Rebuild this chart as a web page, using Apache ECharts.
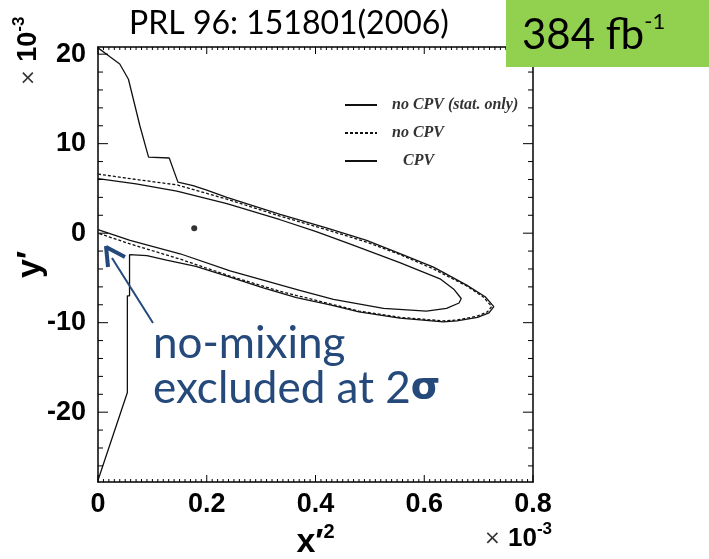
<!DOCTYPE html>
<html>
<head>
<meta charset="utf-8">
<title>x'2 vs y' contours</title>
<script src="https://cdn.jsdelivr.net/npm/echarts@6/dist/echarts.min.js"></script>
<style>
  html, body { margin: 0; padding: 0; background: #fff; }
  #main { width: 709px; height: 559px; }
</style>
</head>
<body>
<div id="main"></div>
<script>
// 95% CL contours in the (x'^2, y') plane, both axes in units of 1e-3
var statOnly = [
  [0, 6.1], [0.07, 5.5], [0.145, 4.7], [0.237, 3.3], [0.335, 1.5], [0.40, 0.2],
  [0.463, -1.2], [0.555, -3.3], [0.629, -5.1], [0.655, -6.3], [0.668, -7.3], [0.664, -7.8],
  [0.641, -8.4], [0.604, -8.7], [0.525, -8.4], [0.433, -7.4], [0.371, -6.4], [0.243, -4.2],
  [0.151, -2.3], [0.059, -0.8], [0, 0.4]
];
var noCpv = [
  [0, 6.6], [0.07, 6.0], [0.145, 5.4], [0.237, 3.8], [0.335, 1.9], [0.42, 0.4],
  [0.494, -1.0], [0.56, -2.5], [0.617, -4.0], [0.678, -5.9], [0.708, -7.1], [0.724, -8.2],
  [0.716, -8.8], [0.696, -9.3], [0.66, -9.7], [0.635, -9.8], [0.555, -9.4], [0.48, -8.7],
  [0.427, -7.9], [0.335, -6.5], [0.243, -4.8], [0.151, -2.9], [0.059, -1.2], [0, 0.0]
];
var cpv = [
  [0, 20.7], [0.022, 19.7], [0.04, 18.9], [0.056, 17.2], [0.077, 12.0], [0.093, 8.5],
  [0.131, 8.4], [0.147, 5.7], [0.175, 5.3], [0.2, 4.8], [0.237, 4.0], [0.335, 2.1],
  [0.42, 0.6], [0.494, -0.8], [0.56, -2.4], [0.617, -3.8], [0.678, -5.8], [0.712, -7.1],
  [0.728, -8.2], [0.719, -8.9], [0.698, -9.4], [0.66, -9.8], [0.635, -9.9], [0.555, -9.5],
  [0.48, -8.8], [0.427, -8.0], [0.365, -7.2], [0.304, -6.1], [0.243, -4.9], [0.18, -3.7],
  [0.126, -3.0], [0.09, -2.5], [0.058, -2.4], [0.058, -7.0], [0.054, -7.0], [0.054, -17.8],
  [0, -27.6]
];
var bestFit = [[0.177, 0.56]];

var legendNames = ['no CPV (stat. only)', 'no CPV', 'CPV'];
var xMajor = [0, 0.2, 0.4, 0.6, 0.8];
var xMinorPerMajor = 20;
var yMajor = [-20, -10, 0, 10, 20];
var yMinor = [-26, -24, -22, -18, -16, -14, -12, -8, -6, -4, -2, 2, 4, 6, 8, 12, 14, 16, 18];
var X_MIN = 0, X_MAX = 0.8, Y_MIN = -27.8, Y_MAX = 20.8;

var black = '#000';
var blue = '#24497a';
var tickFont = { color: black, fontSize: 27, fontWeight: 'bold', fontFamily: 'Liberation Sans' };

// tick marks on all four sides: [x, y, 0 = x tick / 1 = y tick, length px]
var tickMarks = [];
xMajor.forEach(function (v, i) {
  tickMarks.push([v, Y_MIN, 0, 7]);
  if (i < xMajor.length - 1) {
    var step = (xMajor[i + 1] - v) / xMinorPerMajor;
    for (var k = 1; k < xMinorPerMajor; k++) tickMarks.push([v + k * step, Y_MIN, 0, 3]);
  }
});
yMajor.forEach(function (v) { tickMarks.push([X_MIN, v, 1, 10]); });
yMinor.forEach(function (v) { tickMarks.push([X_MIN, v, 1, 5]); });

function renderTick(params, api) {
  var cs = params.coordSys;
  var p = api.coord([api.value(0), api.value(1)]);
  var len = api.value(3);
  var st = { stroke: black, lineWidth: 1 };
  if (api.value(2) === 0) {
    var yb = cs.y + cs.height, yt = cs.y;
    return { type: 'group', children: [
      { type: 'line', shape: { x1: p[0], y1: yb, x2: p[0], y2: yb - len }, style: st },
      { type: 'line', shape: { x1: p[0], y1: yt, x2: p[0], y2: yt + len }, style: st }
    ] };
  }
  var xl = cs.x, xr = cs.x + cs.width;
  return { type: 'group', children: [
    { type: 'line', shape: { x1: xl, y1: p[1], x2: xl + len, y2: p[1] }, style: st },
    { type: 'line', shape: { x1: xr, y1: p[1], x2: xr - len, y2: p[1] }, style: st }
  ] };
}

var frameLine = { onZero: false, lineStyle: { color: black, width: 1.5 } };

var chart = echarts.init(document.getElementById('main'));
chart.setOption({
  animation: false,
  title: {
    text: 'PRL 96: 151801(2006)', left: 124, top: 3,
    textStyle: { fontFamily: 'Lato', fontWeight: 'normal', fontSize: 32, color: black }
  },
  grid: { left: 98, right: 176, top: 47, bottom: 77, outerBoundsMode: 'none', containLabel: false },
  legend: {
    orient: 'vertical', left: 339, top: 92, itemWidth: 32, itemHeight: 14, itemGap: 12,
    itemStyle: { opacity: 0 },
    data: [
      { name: legendNames[0] },
      { name: legendNames[1] },
      { name: legendNames[2], textStyle: { padding: [0, 0, 0, 21] } }
    ],
    textStyle: {
      fontFamily: 'Liberation Serif', fontStyle: 'italic', fontWeight: 'bold',
      fontSize: 16, color: '#333', padding: [0, 0, 0, 10]
    }
  },
  xAxis: [
    {
      type: 'value', position: 'bottom', min: X_MIN, max: X_MAX, interval: 0.2,
      axisLine: frameLine, axisTick: { show: false }, splitLine: { show: false },
      axisLabel: Object.assign({ margin: 9 }, tickFont),
      name: '{a|x′}{b|2}', nameLocation: 'middle', nameGap: 36,
      nameTextStyle: {
        rich: {
          a: { fontSize: 34, fontWeight: 'bold', fontFamily: 'Liberation Sans', color: black, lineHeight: 40 },
          b: { fontSize: 20, fontWeight: 'bold', fontFamily: 'Liberation Sans', color: black, verticalAlign: 'top' }
        }
      }
    },
    {
      type: 'value', position: 'top', min: X_MIN, max: X_MAX, interval: 0.2,
      axisLine: frameLine, axisTick: { show: false }, splitLine: { show: false }, axisLabel: { show: false }
    }
  ],
  yAxis: [
    {
      type: 'value', position: 'left', min: Y_MIN, max: Y_MAX,
      axisLine: frameLine, axisTick: { show: false }, splitLine: { show: false },
      axisLabel: Object.assign({ margin: 12, customValues: yMajor }, tickFont),
      name: 'y′', nameLocation: 'middle', nameRotate: 90, nameGap: 50, nameMoveOverlap: false,
      nameTextStyle: { fontSize: 34, fontWeight: 'bold', fontFamily: 'Liberation Sans', color: black }
    },
    {
      type: 'value', position: 'right', min: Y_MIN, max: Y_MAX,
      axisLine: frameLine, axisTick: { show: false }, splitLine: { show: false }, axisLabel: { show: false }
    }
  ],
  series: [
    { name: legendNames[0], type: 'line', data: statOnly, symbol: 'none',
      itemStyle: { color: '#222' }, lineStyle: { color: '#111', width: 1.3 } },
    { name: legendNames[1], type: 'line', data: noCpv, symbol: 'none',
      itemStyle: { color: '#222' }, lineStyle: { color: '#111', width: 1.3, type: [3, 2] } },
    { name: legendNames[2], type: 'line', data: cpv, symbol: 'none',
      itemStyle: { color: '#222' }, lineStyle: { color: '#111', width: 1.3 } },
    { name: 'best fit', type: 'scatter', data: bestFit, symbolSize: 6, itemStyle: { color: black } },
    { name: 'ticks', type: 'custom', data: tickMarks, renderItem: renderTick,
      silent: true, clip: false, z: 5 }
  ],
  graphic: [
    { type: 'rect', z: 100, shape: { x: 506, y: 0, width: 203, height: 67 }, style: { fill: '#92d050' } },
    { type: 'text', z: 101, x: 522, y: 11,
      style: {
        text: '{a|384 fb}{b|-1}', fill: black,
        rich: {
          a: { fontFamily: 'Lato', fontSize: 42, lineHeight: 48 },
          b: { fontFamily: 'Lato', fontSize: 22, verticalAlign: 'top' }
        }
      } },
    // y-axis multiplier, rotated
    { type: 'text', z: 101, x: 47, y: 86, rotation: Math.PI / 2,
      style: {
        text: '{t|×}{n| 10}{s|-3}', fill: black, align: 'left', verticalAlign: 'bottom',
        rich: {
          t: { fontFamily: 'DejaVu Sans', fontSize: 20, lineHeight: 36, fill: '#333' },
          n: { fontFamily: 'Liberation Sans', fontWeight: 'bold', fontSize: 27, lineHeight: 36 },
          s: { fontFamily: 'Liberation Sans', fontWeight: 'bold', fontSize: 17, verticalAlign: 'top' }
        }
      } },
    // x-axis multiplier
    { type: 'text', z: 101, x: 484, y: 521,
      style: {
        text: '{t|×}{n| 10}{s|-3}', fill: black,
        rich: {
          t: { fontFamily: 'DejaVu Sans', fontSize: 20, lineHeight: 36, fill: '#333' },
          n: { fontFamily: 'Liberation Sans', fontWeight: 'bold', fontSize: 26, lineHeight: 36 },
          s: { fontFamily: 'Liberation Sans', fontWeight: 'bold', fontSize: 17, verticalAlign: 'top' }
        }
      } },
    // annotation
    { type: 'text', z: 101, x: 153, y: 321,
      style: {
        text: '{a|no-mixing}\n{a|excluded at 2}{b|σ}', fill: blue,
        rich: {
          a: { fontFamily: 'Lato', fontSize: 44, lineHeight: 45, fill: blue },
          b: { fontFamily: 'DejaVu Sans', fontWeight: 'bold', fontSize: 38, lineHeight: 45, fill: blue }
        }
      } },
    { type: 'line', z: 101, shape: { x1: 153, y1: 323, x2: 112, y2: 258 },
      style: { stroke: blue, lineWidth: 2 } },
    { type: 'line', z: 101, shape: { x1: 125, y1: 257, x2: 106, y2: 247 },
      style: { stroke: blue, lineWidth: 4 } },
    { type: 'line', z: 101, shape: { x1: 106, y1: 246, x2: 108, y2: 267 },
      style: { stroke: blue, lineWidth: 4 } }
  ]
});
</script>
</body>
</html>
